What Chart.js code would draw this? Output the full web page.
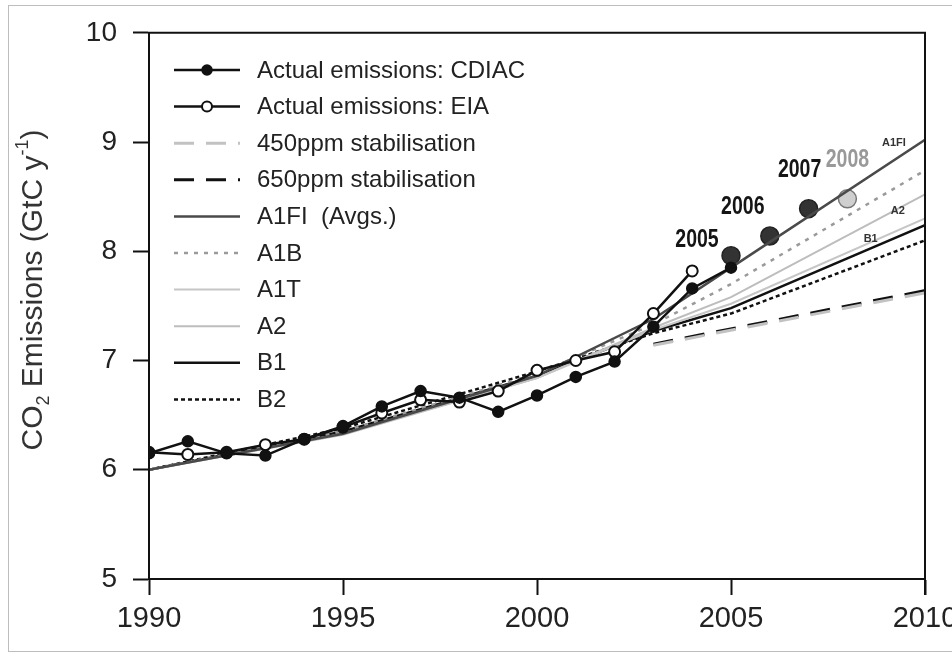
<!DOCTYPE html>
<html>
<head>
<meta charset="utf-8">
<script src="https://cdn.jsdelivr.net/npm/chart.js@4.4.1/dist/chart.umd.min.js"></script>
<style>
  html, body { margin: 0; padding: 0; background: #fff; overflow: hidden; }
  #wrap { position: relative; width: 1000px; height: 665px; }
</style>
</head>
<body>
<div id="wrap"><canvas id="co2Chart"></canvas></div>
<script>
// observed emissions
var obsYears = [1990, 1991, 1992, 1993, 1994, 1995, 1996, 1997, 1998, 1999, 2000, 2001, 2002, 2003, 2004, 2005];
var cdiac = [6.15, 6.26, 6.15, 6.13, 6.28, 6.40, 6.58, 6.72, 6.66, 6.53, 6.68, 6.85, 6.99, 7.31, 7.66, 7.85];
var eia = [6.16, 6.14, 6.16, 6.23, 6.28, 6.39, 6.52, 6.64, 6.62, 6.72, 6.91, 7.00, 7.08, 7.43, 7.82];

// highlighted recent years
var recentYears = [2005, 2006, 2007, 2008];
var recentValues = [7.96, 8.14, 8.39, 8.48];

// scenario averages
var scenYears = [1990, 1995, 2000, 2003, 2005, 2010];
var a1fi = [6.00, 6.33, 6.86, 7.38, 7.85, 9.02];
var a1b = [6.00, 6.35, 6.88, 7.33, 7.70, 8.74];
var a1t = [6.00, 6.33, 6.84, 7.28, 7.52, 8.30];
var a2 = [6.00, 6.32, 6.84, 7.30, 7.58, 8.52];
var b1 = [6.00, 6.35, 6.86, 7.27, 7.48, 8.24];
var b2 = [6.00, 6.38, 6.90, 7.25, 7.43, 8.10];

// stabilisation pathways
var stabYears = [2003, 2010];
var stab450 = [7.14, 7.62];
var stab650 = [7.15, 7.64];

var xTicks = [1990, 1995, 2000, 2005, 2010];
var yTicks = [5, 6, 7, 8, 9, 10];

var FONT = "'Liberation Sans', Arial, sans-serif";

function pts(xs, ys) {
    return ys.map(function(v, i) { return { x: xs[i], y: v }; });
}

function line(label, xs, ys, color, width, dash) {
    return {
        label: label,
        data: pts(xs, ys),
        borderColor: color,
        borderWidth: width,
        borderDash: dash || [],
        pointRadius: 0,
        fill: false,
        tension: 0
    };
}

var datasets = [
    {
        label: 'Actual emissions: CDIAC',
        data: pts(obsYears, cdiac),
        borderColor: '#111',
        borderWidth: 2.5,
        pointRadius: 5.5,
        pointBackgroundColor: '#111',
        pointBorderColor: '#111',
        pointBorderWidth: 1.5,
        tension: 0
    },
    {
        label: 'Actual emissions: EIA',
        data: pts(obsYears, eia),
        borderColor: '#111',
        borderWidth: 2.5,
        pointRadius: 5.5,
        pointBackgroundColor: '#fff',
        pointBorderColor: '#111',
        pointBorderWidth: 2,
        tension: 0
    },
    line('450ppm stabilisation', stabYears, stab450, '#c2c2c2', 3, [20, 12]),
    line('650ppm stabilisation', stabYears, stab650, '#111', 3, [20, 12]),
    line('A1FI  (Avgs.)', scenYears, a1fi, '#4a4a4a', 2.5),
    line('A1B', scenYears, a1b, '#9a9a9a', 2.5, [4, 6]),
    line('A1T', scenYears, a1t, '#c6c6c6', 2),
    line('A2', scenYears, a2, '#bdbdbd', 2),
    line('B1', scenYears, b1, '#111', 2.5),
    line('B2', scenYears, b2, '#111', 2.5, [4, 3]),
    {
        label: 'recent',
        data: pts(recentYears, recentValues),
        showLine: false,
        pointRadius: 9,
        pointBackgroundColor: ['#333', '#333', '#333', '#cfcfcf'],
        pointBorderColor: ['#222', '#222', '#222', '#777'],
        pointBorderWidth: 1.5
    }
];

// outer frame, plot box, y title, legend and text labels
var decorations = {
    id: 'decorations',
    beforeDraw: function(chart) {
        var ctx = chart.ctx;
        ctx.save();
        ctx.fillStyle = '#fff';
        ctx.fillRect(0, 0, chart.width, chart.height);
        ctx.strokeStyle = '#bdbdbd';
        ctx.lineWidth = 1;
        ctx.strokeRect(8.5, 5.5, 1100, 646);
        ctx.restore();
    },
    afterDraw: function(chart) {
        var ctx = chart.ctx;
        var a = chart.chartArea;
        ctx.save();
        ctx.strokeStyle = '#111';
        ctx.lineWidth = 2;
        ctx.beginPath();
        ctx.moveTo(a.left, a.bottom);
        ctx.lineTo(a.left, a.top);
        ctx.lineTo(a.right, a.top);
        ctx.lineTo(a.right, a.bottom + 16);
        ctx.stroke();

        // y axis title with sub/superscript
        ctx.translate(34, 290);
        ctx.rotate(-Math.PI / 2);
        ctx.fillStyle = '#333';
        ctx.textBaseline = 'middle';
        var parts = [['CO', 30, 0], ['2', 18, 10], [' Emissions (GtC y', 30, 0], ['-1', 18, -11], [')', 30, 0]];
        var total = 0;
        parts.forEach(function(p) { ctx.font = p[1] + 'px ' + FONT; total += ctx.measureText(p[0]).width; });
        var x = -total / 2;
        parts.forEach(function(p) {
            ctx.font = p[1] + 'px ' + FONT;
            ctx.fillText(p[0], x, p[2]);
            x += ctx.measureText(p[0]).width;
        });
        ctx.restore();

        // legend
        ctx.save();
        var y0 = 70, dy = 36.6;
        for (var i = 0; i < 10; i++) {
            var ds = chart.data.datasets[i];
            var y = y0 + i * dy;
            ctx.strokeStyle = ds.borderColor;
            ctx.lineWidth = ds.borderWidth;
            ctx.setLineDash(ds.borderDash || []);
            ctx.beginPath();
            ctx.moveTo(174, y);
            ctx.lineTo(240, y);
            ctx.stroke();
            ctx.setLineDash([]);
            if (ds.pointRadius) {
                ctx.beginPath();
                ctx.arc(207, y, 5, 0, Math.PI * 2);
                ctx.fillStyle = ds.pointBackgroundColor;
                ctx.fill();
                ctx.lineWidth = ds.pointBorderWidth;
                ctx.strokeStyle = ds.pointBorderColor;
                ctx.stroke();
            }
            ctx.fillStyle = '#222';
            ctx.font = '24px ' + FONT;
            ctx.textBaseline = 'middle';
            ctx.fillText(ds.label, 257, y + 1);
        }
        ctx.restore();

        // year labels over recent points (condensed)
        var xs = chart.scales.x, ys = chart.scales.y;
        var offs = [[-34, -16], [-27, -29], [-9, -39], [0, -39]];
        ctx.save();
        ctx.textAlign = 'center';
        ctx.textBaseline = 'middle';
        ctx.font = 'bold 25px ' + FONT;
        recentYears.forEach(function(yr, i) {
            var px = xs.getPixelForValue(yr) + offs[i][0];
            var py = ys.getPixelForValue(recentValues[i]) + offs[i][1];
            ctx.save();
            ctx.translate(px, py);
            ctx.scale(0.78, 1);
            ctx.fillStyle = i === 3 ? '#999' : '#151515';
            ctx.fillText(String(yr), 0, 0);
            ctx.restore();
        });
        // scenario tags
        ctx.font = 'bold 11px ' + FONT;
        ctx.fillStyle = '#333';
        ctx.fillText('A1FI', xs.getPixelForValue(2009.2), ys.getPixelForValue(8.99));
        ctx.fillText('A2', xs.getPixelForValue(2009.3), ys.getPixelForValue(8.37));
        ctx.fillText('B1', xs.getPixelForValue(2008.6), ys.getPixelForValue(8.11));
        ctx.restore();
    }
};

var ctx = document.getElementById('co2Chart').getContext('2d');
var chart = new Chart(ctx, {
    type: 'line',
    data: { datasets: datasets },
    options: {
        responsive: true,
        maintainAspectRatio: false,
        animation: false,
        layout: { padding: { left: 0, right: 75, top: 29, bottom: 0 } },
        plugins: { legend: { display: false }, tooltip: { enabled: false } },
        scales: {
            x: {
                type: 'linear',
                min: 1990,
                max: 2010,
                afterBuildTicks: function(scale) { scale.ticks = xTicks.map(function(v) { return { value: v }; }); },
                ticks: {
                    color: '#222',
                    font: { size: 29, family: FONT },
                    padding: 7,
                    maxRotation: 0,
                    callback: function(v) { return String(v); }
                },
                grid: { drawOnChartArea: false, tickLength: 16, tickColor: '#111', tickWidth: 2 },
                border: { color: '#111', width: 2 },
                afterFit: function(scale) { scale.height = 86; }
            },
            y: {
                min: 5,
                max: 10,
                afterBuildTicks: function(scale) { scale.ticks = yTicks.map(function(v) { return { value: v }; }); },
                ticks: {
                    color: '#222',
                    font: { size: 28, family: FONT },
                    padding: 16,
                    callback: function(v) { return String(v); }
                },
                grid: { drawOnChartArea: false, tickLength: 16, tickColor: '#111', tickWidth: 2 },
                border: { color: '#111', width: 2 },
                afterFit: function(scale) { scale.width = 149; }
            }
        }
    },
    plugins: [decorations]
});
</script>
</body>
</html>
